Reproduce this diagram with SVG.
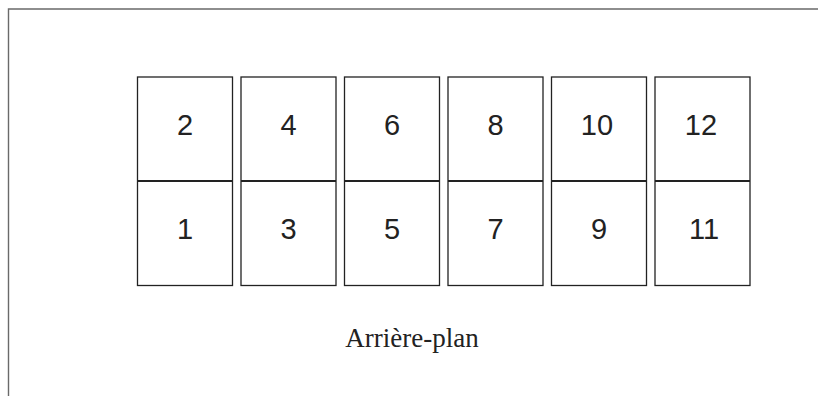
<svg xmlns="http://www.w3.org/2000/svg" width="818" height="396" viewBox="0 0 818 396">
<style>
.frame{fill:none;stroke:#6a6a6a;stroke-width:1.4}
.box{fill:#fff;stroke:#222;stroke-width:1.3}
.div{stroke:#222;stroke-width:2.2}
.num{font-family:"Liberation Sans",Arial,sans-serif;font-size:29px;fill:#222;text-anchor:middle}
.lbl{font-family:"Liberation Serif","Times New Roman",serif;font-size:27px;fill:#222;text-anchor:middle}
</style>
<rect width="818" height="396" fill="#fff"/>
<path class="frame" d="M8.5,396 V9 H818"/>
<g id="connectors"></g>
<g id="sheet1"><rect class="box" x="137.5" y="77" width="95" height="208.5"/><line class="div" x1="137.5" y1="181" x2="232.5" y2="181"/><text class="num" x="185" y="135">2</text><text class="num" x="185" y="239">1</text></g>
<g id="sheet2"><rect class="box" x="241" y="77" width="95" height="208.5"/><line class="div" x1="241" y1="181" x2="336" y2="181"/><text class="num" x="288.5" y="135">4</text><text class="num" x="288.5" y="239">3</text></g>
<g id="sheet3"><rect class="box" x="344.5" y="77" width="95" height="208.5"/><line class="div" x1="344.5" y1="181" x2="439.5" y2="181"/><text class="num" x="392" y="135">6</text><text class="num" x="392" y="239">5</text></g>
<g id="sheet4"><rect class="box" x="448" y="77" width="95" height="208.5"/><line class="div" x1="448" y1="181" x2="543" y2="181"/><text class="num" x="495.5" y="135">8</text><text class="num" x="495.5" y="239">7</text></g>
<g id="sheet5"><rect class="box" x="551.5" y="77" width="95" height="208.5"/><line class="div" x1="551.5" y1="181" x2="646.5" y2="181"/><text class="num" x="597" y="135">10</text><text class="num" x="599" y="239">9</text></g>
<g id="sheet6"><rect class="box" x="655" y="77" width="95" height="208.5"/><line class="div" x1="655" y1="181" x2="750" y2="181"/><text class="num" x="701" y="135">12</text><text class="num" x="704" y="239">11</text></g>
<g id="label"><text class="lbl" x="412" y="346.5">Arrière-plan</text></g>
</svg>
